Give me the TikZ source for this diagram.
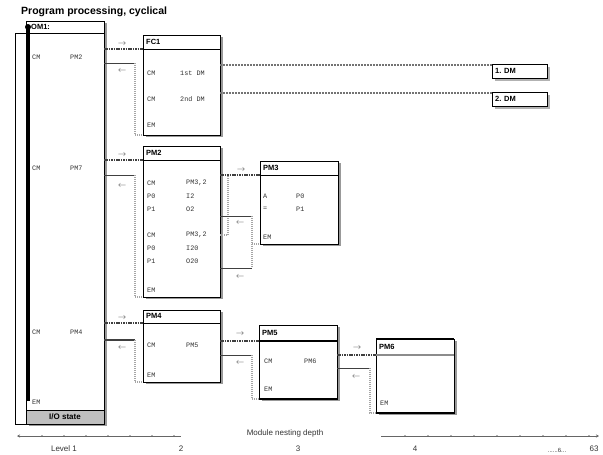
\documentclass[tikz,border=0pt]{standalone}
\usepackage{fontspec}
\setmainfont{Liberation Sans}
\setmonofont{Liberation Mono}
\usetikzlibrary{shadows,arrows.meta}
\begin{document}
\begin{tikzpicture}[x=1pt,y=-1pt,
 mod/.style={draw=black, line width=1pt, fill=white, anchor=north west, inner sep=0pt, outer sep=0pt,
   drop shadow={shadow xshift=2.5pt, shadow yshift=-2pt, fill=black!40, opacity=1}},
 hdr/.style={font=\bfseries\fontsize{7.5}{8}\selectfont, anchor=west, inner sep=0pt},
 code/.style={font=\ttfamily\fontsize{6.8}{7}\selectfont, anchor=west, inner sep=0pt, text=black!80},
 call/.style={line width=1.1pt, dash pattern=on 1.6pt off 0.8pt, black!75},
 retline/.style={line width=0.9pt, black!75},
 retv/.style={line width=1.3pt, dash pattern=on 1pt off 1pt, black!35},
 lab/.style={font=\fontsize{8}{8}\selectfont, inner sep=0pt, text=black!70},
 dmline/.style={line width=1.4pt, dash pattern=on 2pt off 1pt, black!55},
 axis/.style={line width=0.6pt, black!60},
 axlab/.style={font=\fontsize{8}{9}\selectfont, inner sep=0pt, text=black!80}]
\useasboundingbox (0,0) rectangle (603,455);

% title
\node[font=\bfseries\fontsize{10.5}{12}\selectfont, anchor=west, inner sep=0pt] (title) at (21,12) {Program processing, cyclical};

% ---------- OB1 ----------
\node[mod, minimum width=78pt, minimum height=389pt] (ob1) at (26,21) {};
\coordinate (obl) at (15,33);
\draw[line width=1pt] (obl) -- (ob1.east |- obl);
\node[hdr] (ob1t) at (31,27) {OM1:};
\node[draw, line width=1pt, fill=black!25, anchor=north west, minimum width=78pt, minimum height=14pt,
  inner sep=0pt, outer sep=0pt, font=\bfseries\fontsize{8}{8}\selectfont,
  drop shadow={shadow xshift=2.5pt, shadow yshift=-2pt, fill=black!40, opacity=1}] (io) at (26,410) {I/O state};
\draw[line width=0.8pt] (obl) -- (obl |- io.south) -- (io.south west);
\coordinate (thtop) at (28,27);
\coordinate (thbot) at (28,401);
\draw[line width=3pt] (thtop) -- (thbot);
\fill (thtop) circle (3pt);
\node[code] (o1a) at (32,57) {CM};  \node[code] (o1b) at (70,57) {PM2};
\node[code] (o2a) at (32,168) {CM}; \node[code] (o2b) at (70,168) {PM7};
\node[code] (o3a) at (32,332) {CM}; \node[code] (o3b) at (70,332) {PM4};
\node[code] (o4a) at (32,402) {EM};

% ---------- FC1 ----------
\node[mod, minimum width=77pt, minimum height=100pt] (fc1) at (143,35) {};
\coordinate (fc1h) at (143,49);
\draw[line width=1pt] (fc1h) -- (fc1.east |- fc1h);
\node[hdr] (fc1t) at (146,42) {FC1};
\node[code] (f1a) at (147,73) {CM}; \node[code] (f1b) at (180,73) {1st DM};
\node[code] (f2a) at (147,99) {CM}; \node[code] (f2b) at (180,99) {2nd DM};
\node[code] (f3a) at (147,125) {EM};

% DM targets
\node[draw, line width=1pt, anchor=north west, minimum width=55pt, minimum height=14pt, inner sep=0pt,
  drop shadow={shadow xshift=2pt, shadow yshift=-2pt, fill=black!30, opacity=1}, fill=white] (dm1) at (492,64) {};
\node[hdr] at (495,71) {1. DM};
\node[draw, line width=1pt, anchor=north west, minimum width=55pt, minimum height=14pt, inner sep=0pt,
  drop shadow={shadow xshift=2pt, shadow yshift=-2pt, fill=black!30, opacity=1}, fill=white] (dm2) at (492,92) {};
\node[hdr] at (495,99) {2. DM};
\draw[dmline] (fc1.east |- 0,65) -- (dm1.west |- 0,65);
\draw[dmline] (fc1.east |- 0,93) -- (dm2.west |- 0,93);

% OB1 <-> FC1
\draw[call] (ob1.east |- fc1h) -- (fc1h);
\node[lab] at (122,44) {$\rightarrow$};
\coordinate (r1) at (135,63);
\draw[retline] (ob1.east |- r1) -- (r1);
\draw[retv] (r1) -- (r1 |- fc1.south) -- (fc1.south west);
\node[lab] at (122,71) {$\leftarrow$};

% ---------- PM2 ----------
\node[mod, minimum width=77pt, minimum height=151pt] (pm2) at (143,146) {};
\coordinate (pm2h) at (143,160);
\draw[line width=1pt] (pm2h) -- (pm2.east |- pm2h);
\node[hdr] (pm2t) at (146,153) {PM2};
\node[code] at (147,183) {CM}; \node[code] at (186,183) {PM3,2};
\node[code] at (147,196) {P0}; \node[code] at (186,196) {I2};
\node[code] at (147,209) {P1}; \node[code] at (186,209) {O2};
\node[code] at (147,235) {CM}; \node[code] at (186,235) {PM3,2};
\node[code] at (147,248) {P0}; \node[code] at (186,248) {I20};
\node[code] at (147,261) {P1}; \node[code] at (186,261) {O20};
\node[code] at (147,290) {EM};

% OB1 <-> PM2
\draw[call] (ob1.east |- pm2h) -- (pm2h);
\node[lab] at (122,155) {$\rightarrow$};
\coordinate (r2) at (135,175);
\draw[retline] (ob1.east |- r2) -- (r2);
\draw[retv] (r2) -- (r2 |- pm2.south) -- (pm2.south west);
\node[lab] at (122,186) {$\leftarrow$};

% ---------- PM3 ----------
\node[mod, minimum width=78pt, minimum height=83pt] (pm3) at (260,161) {};
\coordinate (pm3h) at (260,175);
\draw[line width=1pt] (pm3h) -- (pm3.east |- pm3h);
\node[hdr] (pm3t) at (263,168) {PM3};
\node[code] at (263,196) {A}; \node[code] at (296,196) {P0};
\node[code] at (263,209) {=}; \node[code] at (296,209) {P1};
\node[code] at (263,237) {EM};

% PM2 <-> PM3
\draw[call] (pm2.east |- pm3h) -- (pm3h);
\node[lab] at (241,170) {$\rightarrow$};
\coordinate (c2) at (228,235);
\draw[retv] (pm2.east |- c2) -- (c2) -- (c2 |- pm3h);
\coordinate (r3) at (252,216);
\draw[retline] (pm2.east |- r3) -- (r3);
\draw[retv] (r3) -- (r3 |- pm3.south) -- (pm3.south west);
\node[lab] at (240,223) {$\leftarrow$};
\coordinate (r4) at (252,268);
\draw[retv] (r3 |- pm3.south) -- (r4);
\draw[retline] (r4) -- (pm2.east |- r4);
\node[lab] at (240,277) {$\leftarrow$};

% ---------- PM4 ----------
\node[mod, minimum width=77pt, minimum height=72pt] (pm4) at (143,310) {};
\coordinate (pm4h) at (143,323);
\draw[line width=1pt] (pm4h) -- (pm4.east |- pm4h);
\node[hdr] (pm4t) at (146,316) {PM4};
\node[code] at (147,345) {CM}; \node[code] at (186,345) {PM5};
\node[code] at (147,375) {EM};

% OB1 <-> PM4
\draw[call] (ob1.east |- pm4h) -- (pm4h);
\node[lab] at (122,318) {$\rightarrow$};
\coordinate (r5) at (135,340);
\draw[retline, line width=1.6pt, dash pattern=on 1.5pt off 0.5pt] (ob1.east |- r5) -- (r5);
\draw[retv] (r5) -- (r5 |- pm4.south) -- (pm4.south west);
\node[lab] at (122,348) {$\leftarrow$};

% ---------- PM5 ----------
\node[mod, minimum width=78pt, minimum height=74pt] (pm5) at (259,325) {};
\coordinate (pm5h) at (259,341);
\draw[line width=2pt] (pm5h) -- (pm5.east |- pm5h);
\draw[line width=2pt] (pm5.south west) -- (pm5.south east);
\node[hdr] (pm5t) at (262,333) {PM5};
\node[code] at (264,361) {CM}; \node[code] at (304,361) {PM6};
\node[code] at (264,389) {EM};

% PM4 <-> PM5
\draw[call, line width=1.6pt] (pm4.east |- pm5h) -- (pm5h);
\node[lab] at (240,334) {$\rightarrow$};
\coordinate (r6) at (252,355);
\draw[retline] (pm4.east |- r6) -- (r6);
\draw[retv] (r6) -- (r6 |- pm5.south) -- (pm5.south west);
\node[lab] at (240,363) {$\leftarrow$};

% ---------- PM6 ----------
\node[mod, minimum width=78pt, minimum height=74pt] (pm6) at (376,339) {};
\coordinate (pm6h) at (376,355);
\draw[line width=2pt, black!45] (pm6h) -- (pm6.east |- pm6h);
\draw[line width=2pt] (pm6.north west) -- (pm6.north east);
\draw[line width=2pt] (pm6.south west) -- (pm6.south east);
\node[hdr] (pm6t) at (379,347) {PM6};
\node[code] at (380,403) {EM};

% PM5 <-> PM6
\draw[call] (pm5.east |- pm6h) -- (pm6h);
\node[lab] at (357,348) {$\rightarrow$};
\coordinate (r7) at (370,368);
\draw[retline] (pm5.east |- r7) -- (r7);
\draw[retv] (r7) -- (r7 |- pm6.south) -- (pm6.south west);
\node[lab] at (356,377) {$\leftarrow$};

% ---------- axis ----------
\coordinate (a1) at (17,436);
\coordinate (a2) at (181,436);
\coordinate (a3) at (381,436);
\coordinate (a4) at (599,436);
\draw[axis, {Stealth[length=3pt,width=3pt]}-] (a1) -- (a2);
\draw[axis, -{Stealth[length=3pt,width=3pt]}] (a3) -- (a4);
\foreach \x in {42,64,86,108,130,152,174,405,428,451,474,497,520,543,566,589}
  \fill[black!60] (\x,436) circle (0.9pt);
\node[axlab] (axt) at (285,433) {Module nesting depth};
\node[axlab] (l1) at (64,449) {Level 1};
\node[axlab] (l2) at (181,449) {2};
\node[axlab] (l3) at (298,449) {3};
\node[axlab] (l4) at (415,449) {4};
\node[axlab, font=\fontsize{6}{7}\selectfont] (l5) at (557,450) {......6...};
\node[axlab] (l6) at (594,449) {63};
\end{tikzpicture}
\end{document}
